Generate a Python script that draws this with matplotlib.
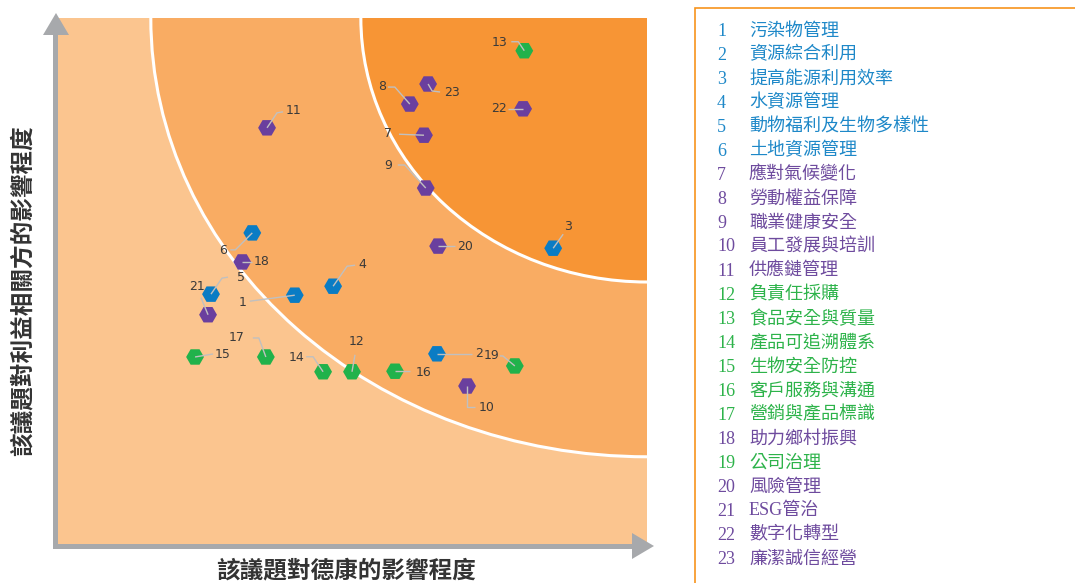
import matplotlib
matplotlib.use("Agg")
import matplotlib.pyplot as plt
from matplotlib.patches import Ellipse, Rectangle, Polygon
import numpy as np

# ---------------- data ----------------
ids = list(range(1, 24))
names = ["污染物管理", "資源綜合利用", "提高能源利用效率", "水資源管理", "動物福利及生物多樣性",
         "土地資源管理", "應對氣候變化", "勞動權益保障", "職業健康安全", "員工發展與培訓",
         "供應鏈管理", "負責任採購", "食品安全與質量", "產品可追溯體系", "生物安全防控",
         "客戶服務與溝通", "營銷與產品標識", "助力鄉村振興", "公司治理", "風險管理",
         "ESG管治", "數字化轉型", "廉潔誠信經營"]
groups = ["env"] * 6 + ["soc"] * 5 + ["prod"] * 6 + ["soc", "prod", "soc", "soc", "soc", "soc"]
impact_company = [4.03, 6.44, 8.41, 4.68, 2.61, 3.31, 6.22, 5.98, 6.25, 6.95, 3.56, 5.00,
                  7.92, 4.51, 2.34, 5.73, 3.54, 3.14, 7.76, 6.46, 2.56, 7.90, 6.29]
impact_stake = [4.75, 3.64, 5.64, 4.92, 4.77, 5.93, 7.78, 8.37, 6.78, 3.03, 7.92, 3.30,
                9.38, 3.30, 3.58, 3.31, 3.58, 5.38, 3.41, 5.68, 4.38, 8.28, 8.75]

# ---------------- style / layout ----------------
W, H = 1075, 583
marker_col = {"env": "#0A7CC4", "soc": "#6A3F9E", "prod": "#21B24B"}
text_col = {"env": "#1E88C8", "soc": "#6E4B9E", "prod": "#2DB34A"}
LIGHT, MED, DARK = "#FBC58F", "#F9AC63", "#F79535"
GRAY = "#A7A9AC"
LEAD = "#C0C0C0"

# leader geometry in pixels relative to point (x right, y down): path vertices, label position
leaders = {
    1: ([(-45, 6)], (-52, 7)),
    2: ([(35, 0)], (42, 0)),
    3: ([(10, -14)], (15, -22)),
    4: ([(14, -20), (22, -21)], (29, -22)),
    5: ([(11, -16), (17, -17)], (30, -17)),
    6: ([(-17, 17), (-22, 17)], (-29, 18)),
    7: ([(-25, -1)], (-36, -2)),
    8: ([(-15, -17), (-22, -17)], (-28, -18)),
    9: ([(-21, -23), (-28, -23)], (-38, -23)),
    10: ([(0, 21), (8, 21)], (20, 21)),
    11: ([(10, -15), (16, -16)], (27, -17)),
    12: ([(3, -17)], (5, -30)),
    13: ([(-6, -9), (-13, -9)], (-25, -8)),
    14: ([(-10, -15), (-17, -15)], (-27, -14)),
    15: ([(18, -3)], (28, -2)),
    16: ([(15, 0)], (28, 1)),
    17: ([(-7, -19), (-13, -19)], (-29, -19)),
    18: ([(10, 0)], (19, 0)),
    19: ([(-12, -10), (-15, -10)], (-23, -10)),
    20: ([(17, 0)], (27, 0)),
    21: ([(-7, -17)], (-11, -28)),
    22: ([(-15, 0)], (-24, 0)),
    23: ([(4, 7), (12, 8)], (24, 9)),
}

CJK = ["Noto Sans CJK TC", "DejaVu Sans"]

fig = plt.figure(figsize=(W / 100, H / 100), dpi=100)
ax_l, ax_r, ax_t, ax_b = 57, 647, 18, 546
ax = fig.add_axes([ax_l / W, 1 - ax_b / H, (ax_r - ax_l) / W, (ax_b - ax_t) / H])
ax.set_xlim(0, 10)
ax.set_ylim(0, 10)
ax.set_facecolor(LIGHT)
for s in ax.spines.values():
    s.set_visible(False)
ax.set_xticks([])
ax.set_yticks([])

# zones: ellipses centred on the top-right corner
outer = Ellipse((10, 10), 2 * 8.41, 2 * 8.31, facecolor=MED, edgecolor="white", lw=2.2, zorder=1)
inner = Ellipse((10, 10), 2 * 4.85, 2 * 5.0, facecolor=DARK, edgecolor="white", lw=2.2, zorder=2)
ax.add_patch(outer)
ax.add_patch(inner)

# markers
for g in ["env", "soc", "prod"]:
    xs = [x for x, gg in zip(impact_company, groups) if gg == g]
    ys = [y for y, gg in zip(impact_stake, groups) if gg == g]
    ax.scatter(xs, ys, marker="H", s=165, color=marker_col[g], edgecolors="none", zorder=4)

# leaders and labels
fig.canvas.draw()
inv = ax.transData.inverted()
for i, x, y in zip(ids, impact_company, impact_stake):
    path, lab = leaders[i]
    px, py = ax.transData.transform((x, y))
    verts = [(px, py)] + [(px + dx, py - dy) for dx, dy in path]
    dv = inv.transform(verts)
    ax.plot(dv[:, 0], dv[:, 1], color=LEAD, lw=1.0, zorder=5, clip_on=False, solid_capstyle="butt")
    lx, ly = inv.transform((px + lab[0], py - lab[1]))
    ax.text(lx, ly, str(i), ha="center", va="center", fontsize=9, color="#3A3A3A",
            family="DejaVu Sans", zorder=6)

# axis arrows (figure pixel geometry)
def fp(px, py):
    return (px / W, 1 - py / H)

fig.add_artist(Rectangle(fp(53, 549), 5 / W, (549 - 33) / H, transform=fig.transFigure,
                         facecolor=GRAY, edgecolor="none", zorder=10))
fig.add_artist(Polygon([fp(43, 35), fp(69, 35), fp(56, 13)], closed=True, transform=fig.transFigure,
                       facecolor=GRAY, edgecolor="none", zorder=10))
fig.add_artist(Rectangle(fp(53, 549), (634 - 53) / W, 5 / H, transform=fig.transFigure,
                         facecolor=GRAY, edgecolor="none", zorder=10))
fig.add_artist(Polygon([fp(632, 533), fp(632, 559), fp(654, 546)], closed=True, transform=fig.transFigure,
                       facecolor=GRAY, edgecolor="none", zorder=10))

# axis titles
fig.text(*fp(346, 570), "該議題對德康的影響程度", ha="center", va="center", fontsize=17,
         fontweight="bold", color="#333333", family=CJK)
fig.text(*fp(23, 291), "該議題對利益相關方的影響程度", ha="center", va="center", fontsize=17,
         fontweight="bold", color="#333333", family=CJK, rotation=90)

# legend box
fig.add_artist(Rectangle(fp(695, 600), 400 / W, (600 - 8) / H, transform=fig.transFigure,
                         facecolor="none", edgecolor="#F7941D", lw=1.2, zorder=10))
row0, step = 31, 24.0
for k, (i, n, g) in enumerate(zip(ids, names, groups)):
    yy = row0 + k * step
    fig.text(*fp(717, yy), str(i), ha="left", va="center", fontsize=13, color=text_col[g],
             family=["Liberation Serif", "Noto Sans CJK TC"])
    fig.text(*fp(749, yy), n, ha="left", va="center", fontsize=13, color=text_col[g],
             family=["Liberation Serif", "Noto Sans CJK TC"])

fig.savefig("out.png", dpi=100)
